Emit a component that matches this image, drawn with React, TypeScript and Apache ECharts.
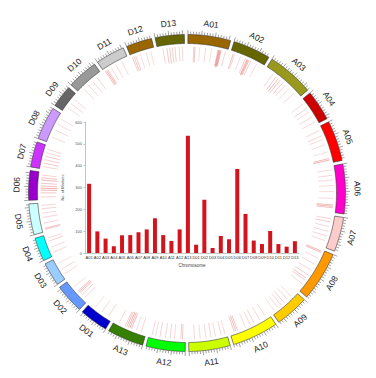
import React, { useEffect, useRef } from 'react';
import * as echarts from 'echarts';

const chromosomes = ['A01','A02','A03','A04','A05','A06','A07','A08','A09','A10','A11','A12','A13','D01','D02','D03','D04','D05','D06','D07','D08','D09','D10','D11','D12','D13'];
const chromLengthsMb = [94, 83, 103, 67, 89, 109, 76, 109, 74, 102, 91, 86, 80, 63, 65, 52, 52, 68, 65, 56, 73, 49, 68, 64, 57, 64];
const chromColors = ['#996600','#666600','#99991e','#cc0000','#ff0000','#ff00cc','#ffcccc','#ff9900','#ffcc00','#ffff00','#ccff00','#00ff00','#358000','#0000cc','#6699ff','#99ccff','#00ffff','#ccffff','#9900cc','#cc33ff','#cc99ff','#666666','#999999','#cccccc','#996600','#666600'];
const markerCounts = [317, 99, 66, 31, 81, 82, 95, 108, 159, 82, 55, 108, 537, 38, 244, 23, 78, 63, 385, 179, 57, 41, 101, 41, 29, 54];
const yTickValues = [0, 100, 200, 300, 400, 500, 600];

// marker line positions along each chromosome: [relative position 0..1, strength 0..1]
const markerLines: [number, number][][] = [
  [[0.15,0.5],[0.18,0.6],[0.3,0.25],[0.45,0.3],[0.6,0.25],[0.76,0.6],[0.78,0.9],[0.8,0.9],[0.82,0.8],[0.84,0.6],[0.95,0.4]],
  [[0.08,0.6],[0.12,0.4],[0.3,0.3],[0.45,0.5],[0.5,0.8],[0.53,0.9],[0.56,0.7],[0.62,0.5],[0.8,0.3]],
  [[0.2,0.4],[0.3,0.6],[0.36,0.7],[0.42,0.6],[0.5,0.5],[0.58,0.4],[0.7,0.3],[0.85,0.3]],
  [[0.15,0.3],[0.35,0.4],[0.5,0.3],[0.7,0.35],[0.9,0.3]],
  [[0.1,0.35],[0.25,0.4],[0.35,0.3],[0.5,0.3],[0.7,0.25],[0.88,0.7],[0.92,0.8]],
  [[0.08,0.3],[0.2,0.35],[0.3,0.3],[0.42,0.3],[0.55,0.25],[0.7,0.3],[0.84,0.7],[0.87,0.8],[0.9,0.6]],
  [[0.1,0.4],[0.2,0.5],[0.35,0.3],[0.5,0.35],[0.65,0.4],[0.8,0.3]],
  [[0.03,0.7],[0.06,0.8],[0.2,0.3],[0.35,0.35],[0.5,0.4],[0.62,0.55],[0.7,0.6],[0.75,0.5],[0.85,0.3]],
  [[0.2,0.3],[0.35,0.4],[0.5,0.45],[0.62,0.4],[0.75,0.3],[0.9,0.25]],
  [[0.1,0.3],[0.25,0.35],[0.4,0.4],[0.5,0.35],[0.62,0.3],[0.82,0.6],[0.86,0.7],[0.9,0.6]],
  [[0.05,0.3],[0.15,0.35],[0.3,0.3],[0.42,0.35],[0.55,0.3],[0.7,0.3],[0.85,0.35]],
  [[0.08,0.5],[0.12,0.45],[0.3,0.3],[0.42,0.4],[0.55,0.35],[0.7,0.4],[0.82,0.3],[0.92,0.35]],
  [[0.15,0.35],[0.3,0.3],[0.45,0.7],[0.5,0.8],[0.55,0.8],[0.6,0.7],[0.65,0.5],[0.85,0.3]],
  [[0.15,0.35],[0.45,0.3],[0.75,0.25]],
  [[0.15,0.35],[0.3,0.45],[0.4,0.6],[0.45,0.7],[0.5,0.6],[0.7,0.3]],
  [[0.2,0.3],[0.45,0.35],[0.75,0.25]],
  [[0.15,0.35],[0.4,0.3],[0.7,0.45],[0.85,0.3]],
  [[0.08,0.6],[0.12,0.55],[0.3,0.35],[0.5,0.4],[0.65,0.3],[0.8,0.4],[0.92,0.35]],
  [[0.1,0.4],[0.25,0.6],[0.35,0.8],[0.42,0.9],[0.5,0.7],[0.6,0.6],[0.72,0.8],[0.8,0.6],[0.9,0.4]],
  [[0.1,0.4],[0.25,0.5],[0.4,0.45],[0.55,0.5],[0.7,0.4],[0.85,0.35]],
  [[0.2,0.3],[0.45,0.35],[0.65,0.3],[0.85,0.3]],
  [[0.25,0.3],[0.5,0.35],[0.75,0.3]],
  [[0.2,0.3],[0.4,0.35],[0.6,0.4],[0.8,0.35]],
  [[0.05,0.7],[0.1,0.8],[0.15,0.7],[0.3,0.3],[0.5,0.35],[0.75,0.3]],
  [[0.05,0.5],[0.12,0.55],[0.2,0.5],[0.4,0.3],[0.65,0.3],[0.85,0.25]],
  [[0.2,0.35],[0.35,0.55],[0.45,0.6],[0.55,0.5],[0.65,0.45],[0.8,0.35],[0.92,0.3]],
];

const GAP_MB = 7.8;
const START_MB = 2;
const TICK_MB = 6;

export default function App() {
  const ref = useRef<HTMLDivElement>(null);
  useEffect(() => {
    if (!ref.current) return;
    const chart = echarts.init(ref.current, null, { renderer: 'svg' });

    const offsets: number[] = [];
    let acc = START_MB;
    chromLengthsMb.forEach((l) => { offsets.push(acc); acc += l + GAP_MB; });
    const total = chromLengthsMb.reduce((a, b) => a + b, 0) + GAP_MB * chromLengthsMb.length;

    const R_IN = 149.5, R_OUT = 158.5, R_LABEL = 170.5;

    const ideoData = chromosomes.map((c, i) => [R_OUT, offsets[i], i]);
    const markerData: number[][] = [];
    markerLines.forEach((list, i) => {
      list.forEach(([rel, s]) => {
        markerData.push([R_IN, offsets[i] + rel * chromLengthsMb[i], s]);
      });
    });

    const option: any = {
      animation: false,
      backgroundColor: '#ffffff',
      polar: { center: [187, 193], radius: 160 },
      angleAxis: { type: 'value', min: 0, max: total, startAngle: 90, clockwise: true, show: false },
      radiusAxis: { type: 'value', min: 0, max: 160, show: false },
      grid: { left: 85, top: 122, width: 214, height: 131 },
      xAxis: {
        type: 'category',
        data: chromosomes,
        axisLine: { lineStyle: { color: '#888', width: 0.5 } },
        axisTick: { show: false },
        axisLabel: { fontSize: 4, color: '#333', margin: 2.5, interval: 0, fontFamily: 'Liberation Sans' },
        name: 'Chromosome',
        nameLocation: 'middle',
        nameGap: 10,
        nameTextStyle: { fontSize: 4.5, color: '#444', fontFamily: 'Liberation Sans' },
      },
      yAxis: {
        type: 'value',
        min: yTickValues[0],
        max: yTickValues[yTickValues.length - 1],
        interval: 100,
        axisLine: { show: true, lineStyle: { color: '#888', width: 0.5 } },
        axisTick: { show: true, length: 1.5, lineStyle: { color: '#888', width: 0.5 } },
        splitLine: { show: false },
        axisLabel: { fontSize: 4, color: '#555', margin: 3, fontFamily: 'Liberation Sans' },
        name: 'No. of Markers',
        nameLocation: 'middle',
        nameGap: 11,
        nameRotate: 90,
        nameTextStyle: { fontSize: 4, color: '#444', fontFamily: 'Liberation Sans' },
      },
      series: [
        {
          type: 'bar',
          data: markerCounts,
          barWidth: 4,
          itemStyle: { color: '#d3141c' },
        },
        {
          type: 'custom',
          coordinateSystem: 'polar',
          data: markerData,
          silent: true,
          renderItem: (params: any, api: any) => {
            const pos = api.value(1);
            const s = api.value(2);
            const p1 = api.coord([129 + (1 - s) * 4, pos]);
            const p2 = api.coord([146.5, pos]);
            return {
              type: 'line',
              shape: { x1: p1[0], y1: p1[1], x2: p2[0], y2: p2[1] },
              style: { stroke: `rgba(218, 55, 55, ${0.1 + 0.45 * s})`, lineWidth: 0.8 },
            };
          },
        },
        {
          type: 'custom',
          coordinateSystem: 'polar',
          data: ideoData,
          silent: true,
          renderItem: (params: any, api: any) => {
            const i = api.value(2);
            const s = offsets[i];
            const len = chromLengthsMb[i];
            const e = s + len;
            const n = Math.max(10, Math.ceil(len / 2));
            const pts: number[][] = [];
            for (let k = 0; k <= n; k++) pts.push(api.coord([R_OUT, s + (len * k) / n]));
            for (let k = n; k >= 0; k--) pts.push(api.coord([R_IN, s + (len * k) / n]));
            const children: any[] = [
              {
                type: 'polygon',
                shape: { points: pts },
                style: { fill: chromColors[i], stroke: '#333', lineWidth: 0.6 },
              },
            ];
            for (let t = 0, c = 0; t <= len + 0.01; t += TICK_MB, c++) {
              const major = c % 5 === 0;
              const a = api.coord([R_OUT + 0.3, s + t]);
              const b = api.coord([R_OUT + (major ? 4.5 : 3), s + t]);
              children.push({
                type: 'line',
                shape: { x1: a[0], y1: a[1], x2: b[0], y2: b[1] },
                style: { stroke: '#444', lineWidth: 0.5 },
              });
            }
            const cs = params.coordSys;
            const lp = api.coord([R_LABEL, (s + e) / 2]);
            let theta = (Math.atan2(lp[0] - cs.cx, cs.cy - lp[1]) * 180) / Math.PI;
            if (theta < 0) theta += 360;
            const rot = theta <= 90 ? theta : theta < 270 ? theta - 180 : theta - 360;
            children.push({
              type: 'text',
              x: lp[0],
              y: lp[1],
              rotation: (-rot * Math.PI) / 180,
              style: {
                text: chromosomes[i],
                x: 0,
                y: 0,
                align: 'center',
                verticalAlign: 'middle',
                fontSize: 8.5,
                fontFamily: 'Liberation Sans',
                fill: '#222',
              },
            });
            return { type: 'group', children };
          },
        },
      ],
    };
    chart.setOption(option);
    return () => chart.dispose();
  }, []);
  return (
    <div
      ref={ref}
      style={{ position: 'fixed', left: 0, top: 0, width: 376, height: 378, background: '#fff' }}
    />
  );
}
